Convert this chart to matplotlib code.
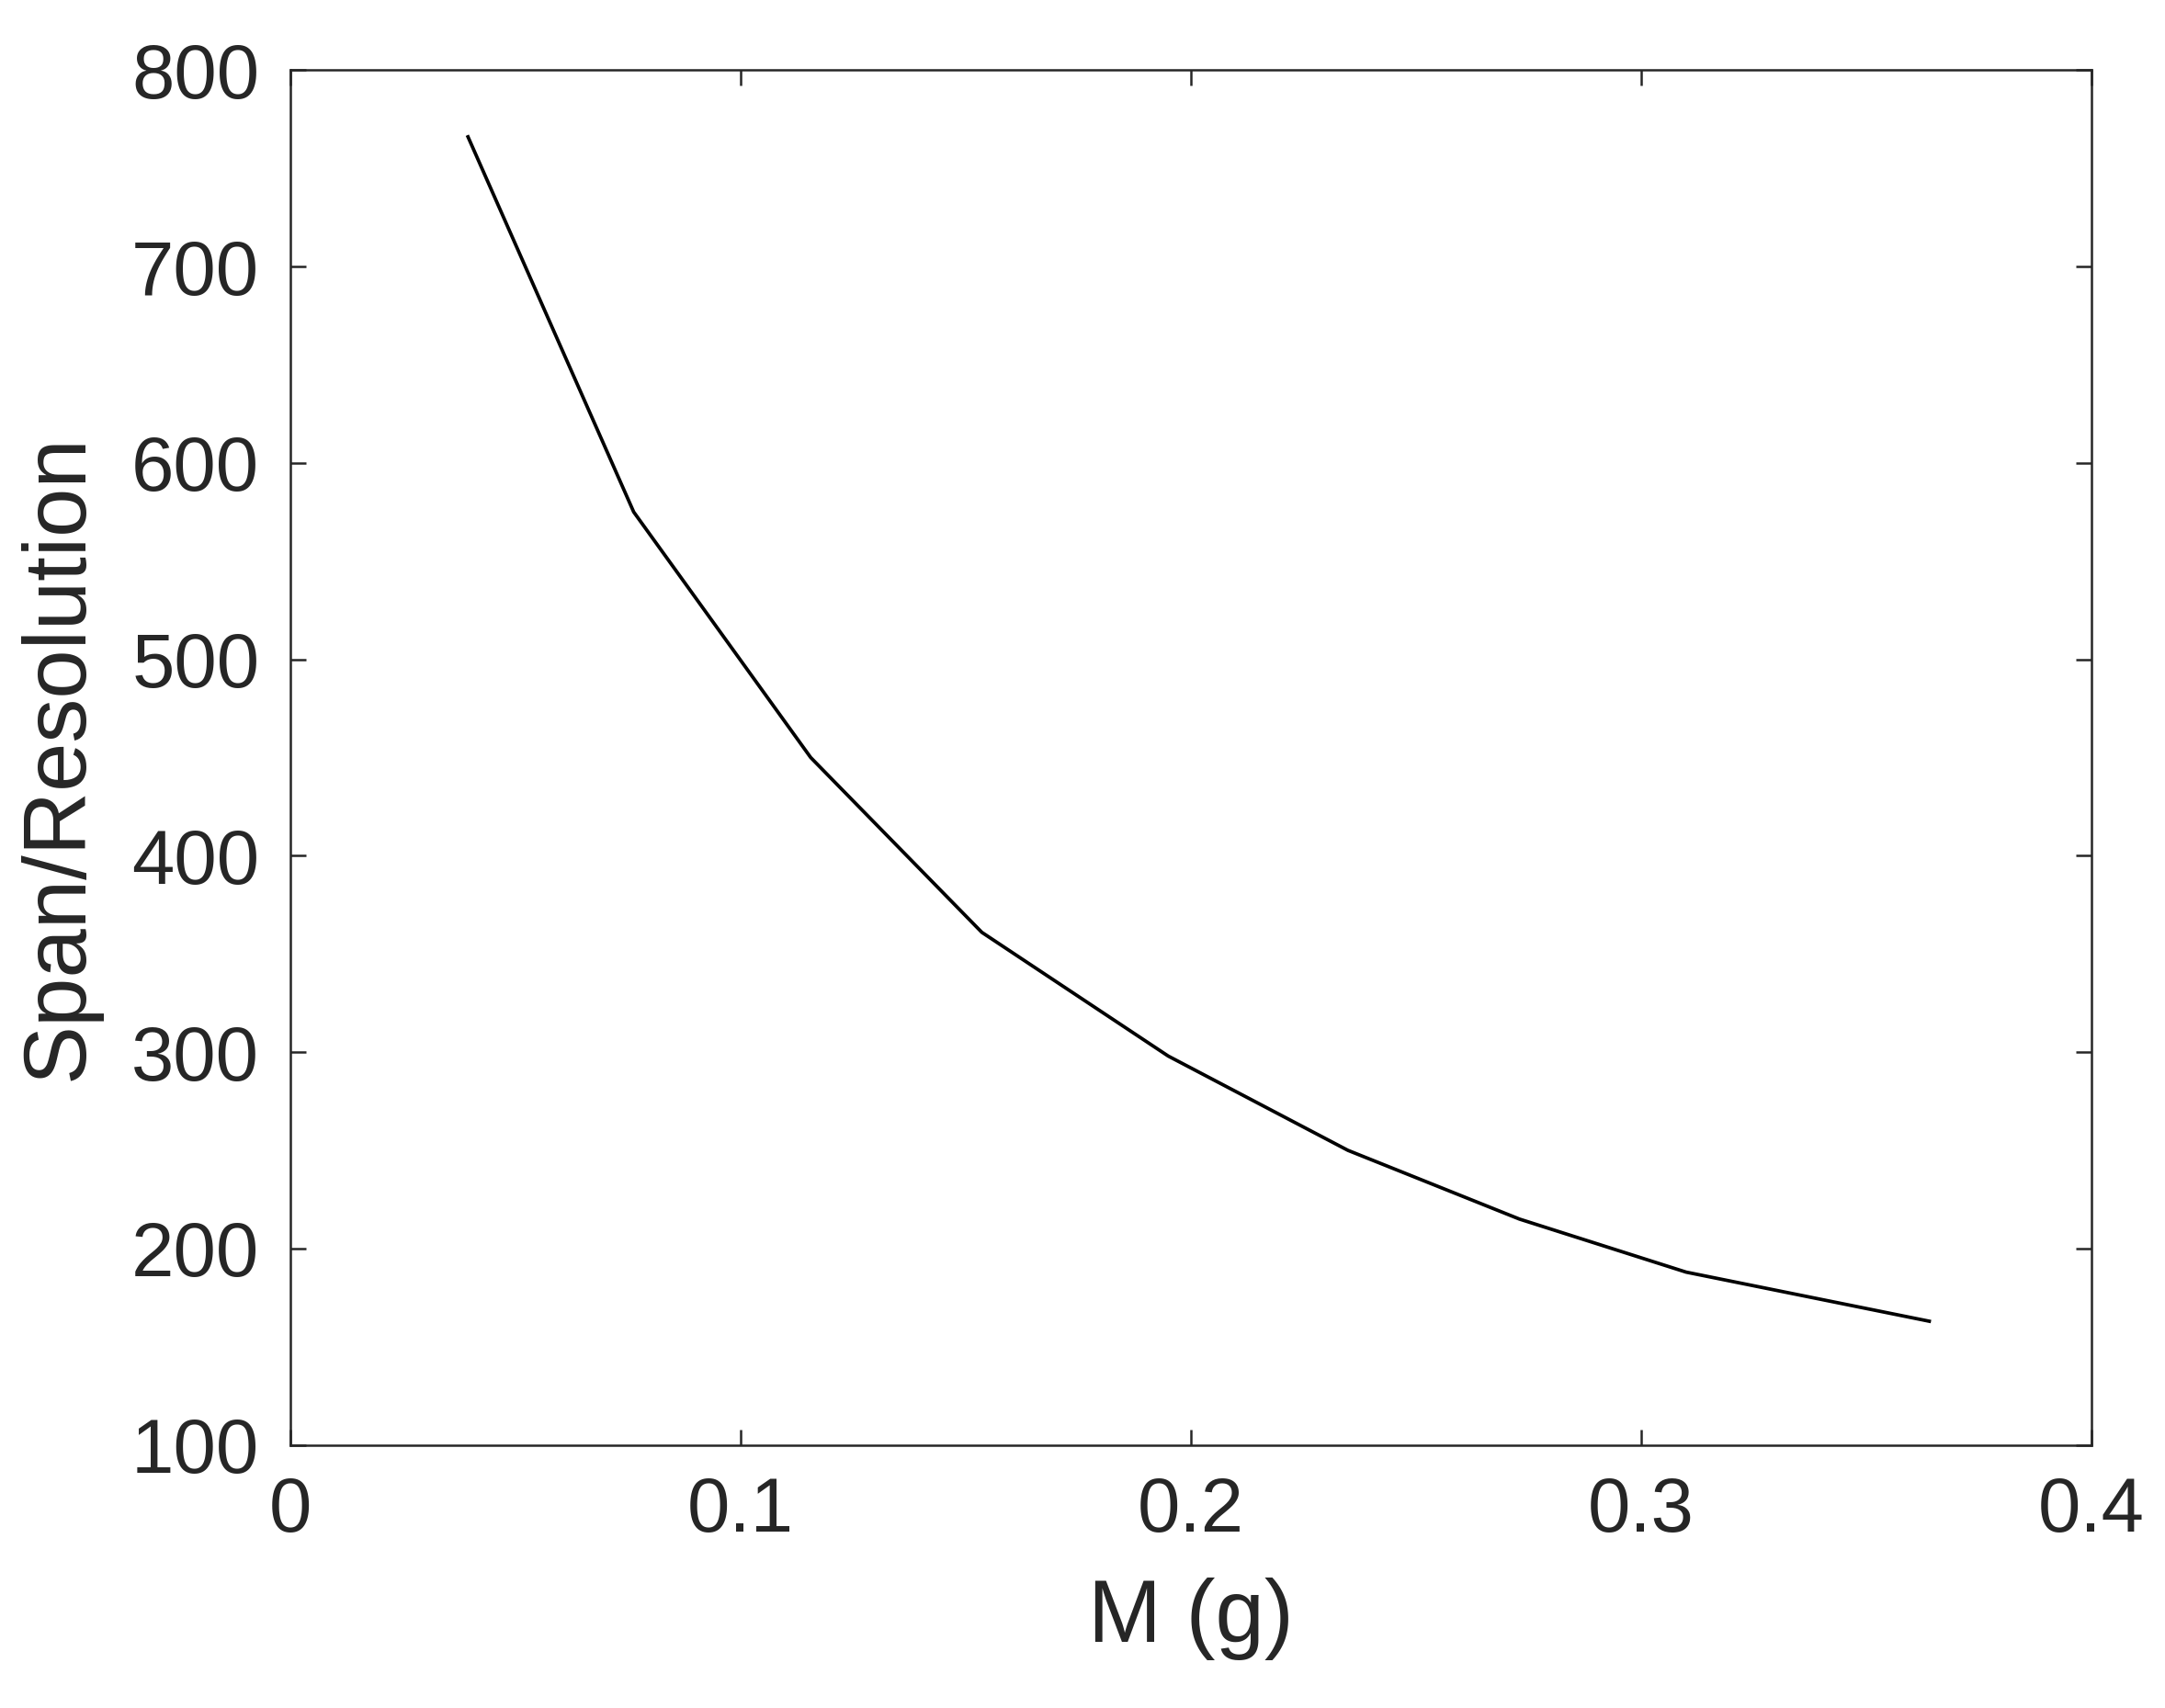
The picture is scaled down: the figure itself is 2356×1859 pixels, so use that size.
import matplotlib
matplotlib.use("Agg")
import matplotlib.pyplot as plt

mass = [0.0395, 0.0763, 0.1156, 0.1536, 0.195, 0.2349, 0.273, 0.310, 0.364]
span_res = [766, 575, 450, 361, 298, 250, 215, 188, 163]
xticks = [0, 0.1, 0.2, 0.3, 0.4]
xticklabels = ["0", "0.1", "0.2", "0.3", "0.4"]
yticks = [100, 200, 300, 400, 500, 600, 700, 800]

plt.rcParams['font.family'] = ['Liberation Sans', 'DejaVu Sans']
fig = plt.figure(figsize=(2356/300, 1859/300), dpi=300)
ax = fig.add_axes([0.134, 0.154, 0.832, 0.805])
ax.plot(mass, span_res, color='black', lw=0.9)
ax.set_xlim(0, 0.4)
ax.set_ylim(100, 800)
ax.set_xticks(xticks)
ax.set_xticklabels(xticklabels)
ax.set_yticks(yticks)
ax.tick_params(direction='in', top=True, right=True, labelsize=20, length=4, width=0.6, colors='#262626', pad=8)
for s in ax.spines.values():
    s.set_linewidth(0.6)
    s.set_color('#262626')
ax.set_xlabel("M (g)", fontsize=23, color='#262626', labelpad=8)
ax.set_ylabel("Span/Resolution", fontsize=23, color='#262626', labelpad=8)
fig.savefig("out.png", dpi=300)
